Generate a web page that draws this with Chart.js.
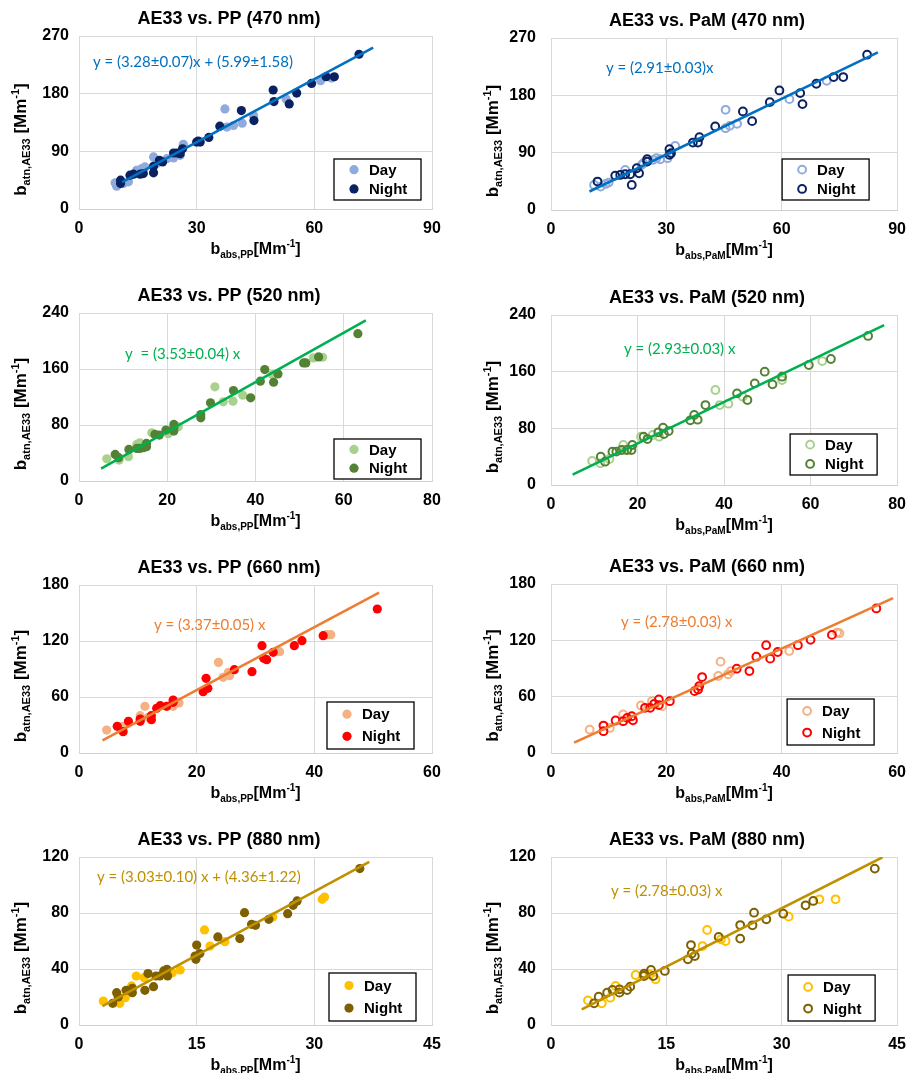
<!DOCTYPE html>
<html>
<head>
<meta charset="utf-8">
<script src="https://cdn.jsdelivr.net/npm/chart.js@4.4.1/dist/chart.umd.min.js"></script>
<style>
  body { margin: 0; background: #fff; width: 916px; height: 1073px; position: relative; overflow: hidden; }
  canvas { position: absolute; }
</style>
</head>
<body>
<canvas id="c0" width="458" height="268" style="left:0;top:0"></canvas>
<canvas id="c1" width="458" height="268" style="left:458px;top:0"></canvas>
<canvas id="c2" width="458" height="268" style="left:0;top:268px"></canvas>
<canvas id="c3" width="458" height="268" style="left:458px;top:268px"></canvas>
<canvas id="c4" width="458" height="268" style="left:0;top:536px"></canvas>
<canvas id="c5" width="458" height="268" style="left:458px;top:536px"></canvas>
<canvas id="c6" width="458" height="269" style="left:0;top:804px"></canvas>
<canvas id="c7" width="458" height="269" style="left:458px;top:804px"></canvas>
<script>
// --- data: [x, y] pairs ---
const pp470Day = [[37.2,156.2],[37.7,127.8],[39.4,130.3],[41.6,134.0],[44.5,145.9],[52.8,171.7],[61.6,200.2],[64.4,204.3],[26.6,100.9],[25.8,83.8],[24.1,79.6],[22.4,78.6],[19.0,81.2],[19.8,70.9],[16.8,65.7],[16.0,63.1],[14.7,60.5],[12.6,42.4],[11.3,39.8],[9.2,40.9],[9.6,35.7],[10.0,38.3]];
const pp470Night = [[71.4,241.5],[63.0,206.4],[65.1,206.4],[59.3,196.0],[55.5,181.0],[49.5,185.7],[49.7,167.6],[53.6,164.0],[41.4,153.6],[44.6,138.0],[35.9,129.3],[33.1,111.7],[30.0,104.5],[30.9,104.5],[30.4,106.0],[26.4,94.0],[24.1,87.4],[24.9,87.4],[25.8,86.4],[20.5,76.0],[21.3,73.4],[19.0,66.7],[19.0,56.4],[16.4,55.3],[15.6,54.3],[13.9,54.3],[13.0,52.8],[10.6,45.0],[10.6,39.8]];
const pp470Fit = [[11, 42.1], [75, 252.0]];

const pam470Day = [[45.4,157.3],[45.4,128.4],[46.5,132.1],[48.4,135.3],[62.0,174.0],[71.7,202.9],[32.3,100.7],[30.3,81.3],[28.4,79.7],[27.4,81.3],[26.5,78.6],[24.0,73.4],[23.6,70.8],[19.3,62.9],[15.0,43.0],[14.2,40.9],[12.9,36.7],[11.2,39.3]];
const pam470Night = [[82.2,243.8],[76.0,208.7],[73.5,208.7],[69.0,198.2],[64.8,183.5],[59.4,187.7],[56.9,169.3],[65.4,166.2],[49.9,154.7],[52.3,139.5],[42.7,131.1],[36.9,105.9],[38.2,105.9],[38.6,114.3],[30.8,95.4],[30.8,86.5],[31.2,89.1],[25.0,76.0],[25.0,79.7],[22.3,65.5],[22.9,57.7],[20.6,56.1],[19.3,56.1],[18.0,55.0],[16.7,54.0],[12.1,44.6],[21.0,39.3]];
const pam470Fit = [[10, 29.1], [85, 247.4]];

const pp520Day = [[30.8,134.5],[32.7,113.1],[34.9,114.0],[37.1,122.6],[43.8,152.0],[53.1,175.8],[55.2,176.8],[22.5,77.5],[20.2,67.5],[16.5,68.9],[13.8,54.6],[13.1,52.3],[11.2,34.7],[9.1,29.9],[6.3,31.8]];
const pp520Night = [[63.2,210.5],[54.3,177.2],[50.9,168.7],[51.4,168.7],[42.1,159.2],[45.1,153.0],[41.1,142.6],[44.1,141.1],[38.9,118.8],[35.0,129.3],[29.8,111.7],[27.6,95.0],[27.6,90.3],[21.5,80.8],[21.5,76.0],[21.5,71.3],[19.7,72.7],[18.2,65.6],[17.2,66.5],[15.3,48.9],[14.6,47.5],[13.8,46.6],[13.1,46.6],[11.3,45.1],[8.2,38.0],[9.0,33.3],[15.3,53.7]];
const pp520Fit = [[5, 17.7], [65, 229.5]];

const pam520Day = [[38.0,134.1],[39.0,112.9],[41.0,114.8],[44.3,124.7],[53.4,148.2],[62.7,175.0],[25.0,68.2],[23.5,70.6],[20.8,68.2],[16.7,56.5],[17.0,49.4],[13.5,36.7],[11.4,30.6],[9.5,33.9]];
const pam520Night = [[73.3,210.4],[64.7,177.9],[59.6,169.4],[49.4,160.0],[51.2,142.1],[53.4,152.9],[47.1,143.5],[43.0,129.4],[45.4,120.0],[35.7,112.9],[33.1,98.8],[32.2,91.3],[33.9,92.2],[25.9,80.9],[27.2,76.2],[24.8,74.4],[26.1,72.0],[21.4,68.2],[22.3,64.9],[18.8,56.5],[18.6,49.4],[17.6,49.4],[16.3,49.4],[15.1,47.1],[14.2,47.1],[11.5,40.0],[12.5,32.9]];
const pam520Fit = [[5, 14.7], [77, 225.6]];

const pp660Day = [[23.7,97.1],[24.5,81.1],[25.4,86.4],[25.6,82.9],[34.1,108.6],[42.1,126.8],[42.8,126.8],[17.0,53.6],[16.0,50.0],[11.2,50.0],[10.4,40.0],[11.8,38.2],[4.7,24.6],[7.5,28.6]];
const pp660Night = [[50.7,154.3],[41.5,125.7],[37.9,120.3],[36.6,115.0],[31.1,115.0],[33.0,107.9],[31.4,101.4],[31.9,100.0],[26.4,89.3],[29.4,87.1],[21.6,80.0],[21.9,69.3],[21.1,65.7],[16.0,56.8],[16.0,54.3],[14.9,50.0],[13.8,50.7],[13.2,47.9],[12.3,40.0],[12.3,35.7],[10.4,36.4],[10.4,33.9],[8.4,33.9],[6.5,28.6],[7.5,22.9]];
const pp660Fit = [[4, 13.5], [51, 171.9]];

const pam660Day = [[29.4,97.3],[29.0,82.0],[30.7,83.8],[31.2,87.3],[41.3,108.7],[49.6,128.3],[50.0,127.6],[19.3,49.9],[17.5,55.2],[15.6,50.6],[12.5,41.0],[10.2,26.7],[6.7,24.9]];
const pam660Night = [[56.4,154.0],[48.7,125.8],[45.0,120.5],[42.8,114.8],[37.3,114.8],[39.3,107.6],[35.6,102.6],[38.0,100.5],[32.2,89.8],[34.4,87.3],[26.2,80.9],[25.7,71.3],[24.9,65.9],[25.5,67.7],[20.6,55.2],[18.7,57.0],[18.7,51.0],[17.9,52.4],[17.2,48.1],[16.3,48.1],[14.0,39.2],[14.2,34.9],[12.5,33.9],[11.2,34.6],[9.1,29.2],[9.1,23.2],[13.2,37.4]];
const pam660Fit = [[4, 11.1], [59.3, 164.9]];

const pp880Day = [[16.0,67.9],[31.0,89.8],[31.3,91.4],[24.7,77.1],[18.6,59.5],[16.7,56.4],[12.9,39.3],[11.9,37.4],[7.3,35.0],[8.3,33.8],[6.7,27.9],[5.9,19.5],[5.2,15.5],[3.1,17.1]];
const pp880Night = [[35.8,111.7],[27.8,88.6],[27.3,85.5],[26.6,79.5],[24.2,75.5],[21.1,80.2],[22.0,71.9],[22.5,71.2],[20.5,61.7],[17.7,62.9],[15.0,57.1],[15.4,51.0],[14.8,49.3],[14.9,46.9],[11.2,39.8],[10.8,38.6],[11.3,35.0],[10.3,35.0],[9.8,35.0],[8.8,36.7],[9.5,27.4],[8.4,24.8],[6.8,23.1],[6.0,24.8],[5.0,20.0],[4.8,23.1],[4.3,15.5],[6.8,26.2]];
const pp880Fit = [[3, 13.5], [37, 116.5]];

const pam880Day = [[20.3,67.9],[37.0,89.8],[34.9,89.8],[30.9,77.4],[22.1,61.2],[22.7,60.0],[19.7,56.4],[12.8,36.2],[11.0,35.7],[8.4,27.9],[7.7,19.5],[6.6,15.5],[4.8,17.6],[13.6,32.6]];
const pam880Night = [[42.1,111.7],[34.1,88.6],[33.1,85.5],[30.2,79.5],[28.0,75.5],[26.4,80.2],[26.2,71.2],[24.6,71.4],[24.6,61.7],[21.8,62.9],[18.2,57.1],[18.3,51.0],[18.7,49.3],[17.8,46.9],[14.8,38.6],[13.0,39.3],[13.3,35.0],[12.1,35.0],[12.1,36.7],[10.3,27.4],[9.9,25.0],[8.9,25.5],[8.0,25.0],[7.3,23.1],[6.2,20.2],[5.6,15.5],[8.9,23.1]];
const pam880Fit = [[4, 11.1], [43.1, 119.8]];

// tick labels
const xTicks = [[0,30,60,90],[0,30,60,90],[0,20,40,60,80],[0,20,40,60,80],[0,20,40,60],[0,20,40,60],[0,15,30,45],[0,15,30,45]];
const yTicks = [[0,90,180,270],[0,90,180,270],[0,80,160,240],[0,80,160,240],[0,60,120,180],[0,60,120,180],[0,40,80,120],[0,40,80,120]];

// texts
const titles = ['AE33 vs. PP (470 nm)','AE33 vs. PaM (470 nm)','AE33 vs. PP (520 nm)','AE33 vs. PaM (520 nm)',
                'AE33 vs. PP (660 nm)','AE33 vs. PaM (660 nm)','AE33 vs. PP (880 nm)','AE33 vs. PaM (880 nm)'];
const equations = ['y = (3.28\u00b10.07)x + (5.99\u00b11.58)','y = (2.91\u00b10.03)x','y  = (3.53\u00b10.04) x','y = (2.93\u00b10.03) x',
                   'y = (3.37\u00b10.05) x','y = (2.78\u00b10.03) x','y = (3.03\u00b10.10) x + (4.36\u00b11.22)','y = (2.78\u00b10.03) x'];
const xSubs = ['abs,PP','abs,PaM'];
const seriesNames = ['Day', 'Night'];

const dayData = [pp470Day, pam470Day, pp520Day, pam520Day, pp660Day, pam660Day, pp880Day, pam880Day];
const nightData = [pp470Night, pam470Night, pp520Night, pam520Night, pp660Night, pam660Night, pp880Night, pam880Night];
const fitData = [pp470Fit, pam470Fit, pp520Fit, pam520Fit, pp660Fit, pam660Fit, pp880Fit, pam880Fit];

// colours per wavelength: day, night, fit line
const colours = [
  { day: '#8faadc', night: '#0b2262', line: '#0070c0' },
  { day: '#a9d18e', night: '#548235', line: '#00b050' },
  { day: '#f4b183', night: '#ff0000', line: '#ed7d31' },
  { day: '#ffc000', night: '#7f6000', line: '#bf9000' }
];

// plot area offsets inside each canvas, equation and legend placement
const layouts = [
  { top: 36, bottom: 209, eqX: 14, eqY: 26, legR: 11, legB: 9,  legH: 41 },
  { top: 38, bottom: 210, eqX: 55, eqY: 30, legR: 28, legB: 10, legH: 41 },
  { top: 45, bottom: 213, eqX: 46, eqY: 41, legR: 11, legB: 2,  legH: 40 },
  { top: 47, bottom: 217, eqX: 73, eqY: 34, legR: 20, legB: 10, legH: 41 },
  { top: 49, bottom: 217, eqX: 75, eqY: 40, legR: 18, legB: 4,  legH: 47 },
  { top: 48, bottom: 217, eqX: 70, eqY: 38, legR: 23, legB: 8,  legH: 46 },
  { top: 53, bottom: 221, eqX: 18, eqY: 20, legR: 16, legB: 4,  legH: 48 },
  { top: 53, bottom: 221, eqX: 60, eqY: 34, legR: 22, legB: 4,  legH: 46 }
];

const FONT = '"Liberation Sans", Arial, sans-serif';

function richText(ctx, parts, cx, cy) {
  let total = 0;
  parts.forEach(p => { ctx.font = 'bold ' + p.s + 'px ' + FONT; p.w = ctx.measureText(p.t).width; total += p.w; });
  let x = cx - total / 2;
  ctx.textAlign = 'left';
  ctx.textBaseline = 'alphabetic';
  parts.forEach(p => {
    ctx.font = 'bold ' + p.s + 'px ' + FONT;
    ctx.fillText(p.t, x, cy + 6 + (p.dy || 0));
    x += p.w;
  });
}

const deco = {
  id: 'deco',
  afterDraw(chart, args, o) {
    const ctx = chart.ctx;
    const a = chart.chartArea;
    ctx.save();
    ctx.fillStyle = '#000';
    // title
    ctx.font = 'bold 18px ' + FONT;
    ctx.textAlign = 'center';
    ctx.textBaseline = 'middle';
    ctx.fillText(o.title, a.left + o.titleDx, a.top - 17);
    // equation
    ctx.font = '15px Lato, sans-serif';
    ctx.fillStyle = o.eqColor;
    ctx.textAlign = 'left';
    ctx.fillText(o.eq, a.left + o.eqX, a.top + o.eqY);
    // axis titles
    ctx.fillStyle = '#000';
    richText(ctx, [{ t: 'b', s: 16 }, { t: o.xSub, s: 10, dy: 4 }, { t: '[Mm', s: 16 }, { t: '-1', s: 10, dy: -7 }, { t: ']', s: 16 }],
      (a.left + a.right) / 2, a.bottom + 39);
    ctx.save();
    ctx.translate(a.left - 59, (a.top + a.bottom) / 2 + 17);
    ctx.rotate(-Math.PI / 2);
    richText(ctx, [{ t: 'b', s: 17 }, { t: 'atn,AE33', s: 11, dy: 4 }, { t: ' [Mm', s: 17 }, { t: '-1', s: 11, dy: -7 }, { t: ']', s: 17 }], 0, 0);
    ctx.restore();
    // legend box inside plot area
    const w = 87, h = o.legH;
    const bx = a.right - o.legR - w, by = a.bottom - o.legB - h;
    ctx.fillStyle = '#fff';
    ctx.fillRect(bx, by, w, h);
    ctx.strokeStyle = '#000';
    ctx.lineWidth = 1.3;
    ctx.strokeRect(bx, by, w, h);
    const ds = [chart.data.datasets[2], chart.data.datasets[1]];
    ds.forEach((d, k) => {
      const yy = by + h * (k === 0 ? 0.26 : 0.73);
      ctx.beginPath();
      ctx.arc(bx + 20, yy, d.pointRadius, 0, Math.PI * 2);
      if (o.open) {
        ctx.strokeStyle = d.pointBorderColor;
        ctx.lineWidth = d.pointBorderWidth;
        ctx.stroke();
      } else {
        ctx.fillStyle = d.pointBackgroundColor;
        ctx.fill();
      }
      ctx.fillStyle = '#000';
      ctx.font = 'bold 15px ' + FONT;
      ctx.textAlign = 'left';
      ctx.textBaseline = 'middle';
      ctx.fillText(d.label, bx + 35, yy + 1);
    });
    ctx.restore();
  }
};

function toXY(arr) { return arr.map(([x, y]) => ({ x, y })); }

function markerStyle(colour, open) {
  return open
    ? { pointRadius: 3.9, pointBorderWidth: 2, pointBorderColor: colour, pointBackgroundColor: 'rgba(255,255,255,0)' }
    : { pointRadius: 4.6, pointBorderWidth: 0, pointBorderColor: colour, pointBackgroundColor: colour };
}

function makeChart(i) {
  const col = i % 2;
  const c = colours[Math.floor(i / 2)];
  const L = layouts[i];
  const open = col === 1;
  const canvas = document.getElementById('c' + i);
  const xt = xTicks[i], yt = yTicks[i];
  const tickFont = { family: FONT, size: 16, weight: 'bold' };
  new Chart(canvas, {
    type: 'scatter',
    data: {
      datasets: [
        { label: 'fit', data: toXY(fitData[i]), showLine: true, borderColor: c.line, borderWidth: 2.6, pointRadius: 0 },
        Object.assign({ label: seriesNames[1], data: toXY(nightData[i]) }, markerStyle(c.night, open)),
        Object.assign({ label: seriesNames[0], data: toXY(dayData[i]) }, markerStyle(c.day, open))
      ]
    },
    options: {
      responsive: false,
      animation: false,
      devicePixelRatio: 1,
      layout: { padding: { left: 0, right: col ? 12 : 26, top: L.top, bottom: 0 } },
      plugins: {
        legend: { display: false },
        tooltip: { enabled: false },
        title: { display: false },
        deco: {
          title: titles[i], titleDx: col ? 156 : 150,
          eq: equations[i], eqColor: c.line, eqX: L.eqX, eqY: L.eqY,
          xSub: xSubs[col], open: open, legR: L.legR, legB: L.legB, legH: L.legH
        }
      },
      scales: {
        x: {
          type: 'linear', min: xt[0], max: xt[xt.length - 1],
          ticks: { stepSize: xt[1] - xt[0], padding: 10, font: tickFont, color: '#000' },
          grid: { color: '#d9d9d9', drawTicks: false },
          border: { color: '#d0d0d0' },
          afterFit: s => { s.height = canvas.height - L.bottom; }
        },
        y: {
          type: 'linear', min: yt[0], max: yt[yt.length - 1],
          ticks: { stepSize: yt[1] - yt[0], padding: col ? 15 : 10, font: tickFont, color: '#000' },
          grid: { color: '#d9d9d9', drawTicks: false },
          border: { color: '#d9d9d9' },
          afterFit: s => { s.width = col ? 93 : 79; }
        }
      }
    },
    plugins: [deco]
  });
}

for (let i = 0; i < 8; i++) makeChart(i);
</script>
</body>
</html>
